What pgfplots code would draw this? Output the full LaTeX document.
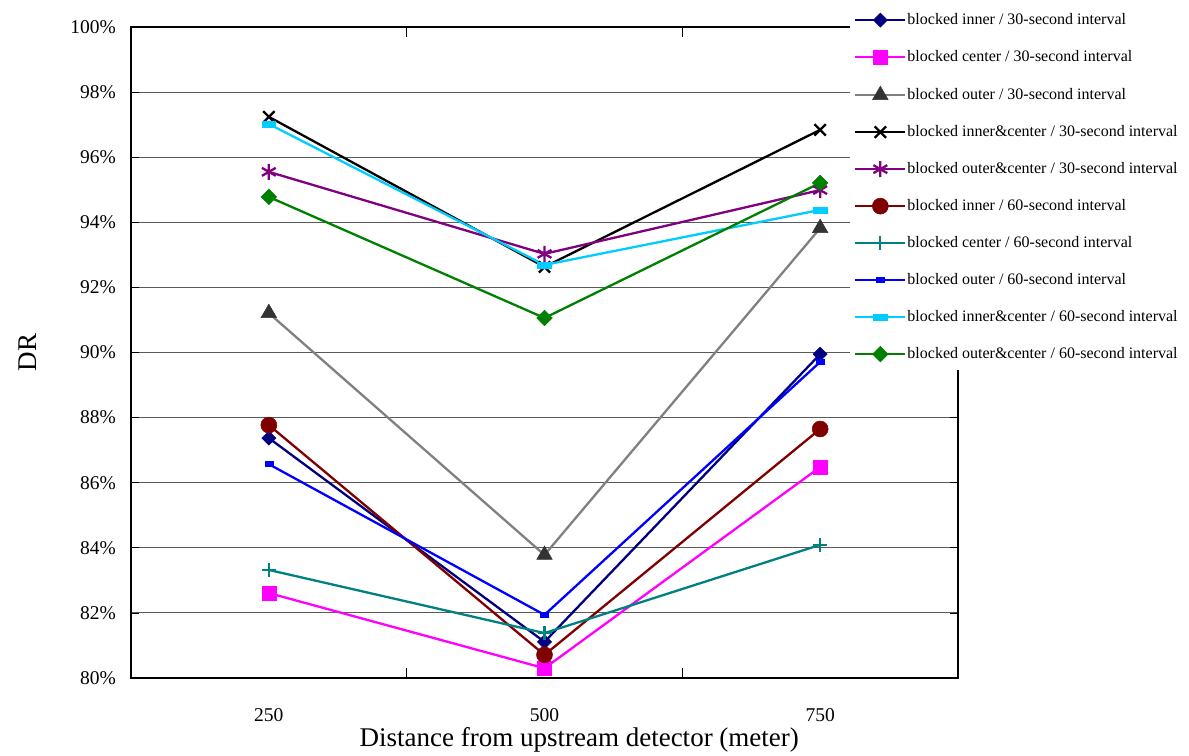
\documentclass[border=0pt]{standalone}
\usepackage{pgfplots}
\pgfplotsset{compat=1.18}
\usepackage{fontspec}
\setmainfont{Liberation Serif}
\definecolor{cnavy}{HTML}{000080}
\definecolor{cmag}{HTML}{FF00FF}
\definecolor{cgray}{HTML}{808080}
\definecolor{cdgray}{HTML}{333333}
\definecolor{cpurple}{HTML}{800080}
\definecolor{cdred}{HTML}{800000}
\definecolor{cteal}{HTML}{008080}
\definecolor{cblue}{HTML}{0000FF}
\definecolor{ccyan}{HTML}{00CCFF}
\definecolor{cgreen}{HTML}{008000}
\begin{document}
\begin{tikzpicture}
\begin{axis}[
  name=ax,
  scale only axis,
  width=827pt, height=651pt,
  xmin=-0.5, xmax=2.5,
  ymin=80, ymax=100,
  xtick={0,1,2},
  xticklabels={250,500,750},
  minor xtick={0.5,1.5},
  ytick={80,82,...,100},
  major x tick style={draw=none},
  minor tick length=10pt,
  major tick length=8pt,
  tick align=inside,
  x tick style={black, line width=0.8pt},
  y tick style={black, line width=0.8pt},
  ymajorgrids,
  grid style={black!65, line width=1pt},
  axis line style={black, line width=1.2pt},
  yticklabel={\pgfmathprintnumber[fixed,precision=0]{\tick}\%},
  /pgf/number format/assume math mode=true,
  ticklabel style={font=\fontsize{19.5}{22}\selectfont},
  xticklabel style={anchor=center, yshift=-37pt},
  yticklabel style={anchor=east, inner sep=0pt, xshift=-15pt},
  xlabel={Distance from upstream detector (meter)},
  ylabel={DR},
  label style={font=\fontsize{27}{30}\selectfont},
  xlabel style={at={(axis description cs:0.542,-0.095)}, anchor=center},
  ylabel style={at={(axis description cs:-0.125,0.5)}, anchor=center},
  legend cell align=left,
  legend image code/.code={\draw[mark repeat=2,mark phase=2] plot coordinates {(0pt,0pt) (25pt,0pt) (50pt,0pt)};},
  legend style={at={(axis description cs:0.8694,1.0354)}, anchor=north west,
    draw=none, fill=white, font=\fontsize{16}{18}\selectfont,
    row sep=21pt, inner xsep=4pt, inner ysep=8pt,
    nodes={inner sep=1pt, text height=11pt, text depth=3pt, anchor=west}},
  every axis plot/.append style={line width=2.3pt},
]
\addplot[cnavy, mark=square*, mark size=5pt, mark options={rotate=45, fill=cnavy, line width=0.5pt}] coordinates {(0,87.37) (1,81.11) (2,89.95)};
\addlegendentry{blocked inner / 30-second interval}
\addplot[cmag, mark=square*, mark size=7pt, mark options={fill=cmag, line width=0.5pt}] coordinates {(0,82.61) (1,80.30) (2,86.48)};
\addlegendentry{blocked center / 30-second interval}
\addplot[cgray, mark=triangle*, mark size=9pt, mark options={draw=cdgray, fill=cdgray, line width=0.5pt}] coordinates {(0,91.21) (1,83.78) (2,93.82)};
\addlegendentry{blocked outer / 30-second interval}
\addplot[black, mark=x, mark size=8pt, mark options={line width=2.3pt}] coordinates {(0,97.24) (1,92.63) (2,96.84)};
\addlegendentry{blocked inner\&center / 30-second interval}
\addplot[cpurple, mark=asterisk, mark size=8pt, mark options={line width=2.3pt}] coordinates {(0,95.55) (1,93.03) (2,94.99)};
\addlegendentry{blocked outer\&center / 30-second interval}
\addplot[cdred, mark=*, mark size=8pt, mark options={fill=cdred, line width=0.5pt}] coordinates {(0,87.77) (1,80.71) (2,87.65)};
\addlegendentry{blocked inner / 60-second interval}
\addplot[cteal, mark=+, mark size=7pt, mark options={line width=2.3pt}] coordinates {(0,83.32) (1,81.38) (2,84.09)};
\addlegendentry{blocked center / 60-second interval}
\addplot[cblue, mark=square*, mark size=2.5pt, mark options={fill=cblue, line width=0.5pt, xscale=1.6, yscale=1}] coordinates {(0,86.57) (1,81.94) (2,89.71)};
\addlegendentry{blocked outer / 60-second interval}
\addplot[ccyan, mark=square*, mark size=3pt, mark options={fill=ccyan, line width=0.5pt, xscale=2.3, yscale=1}] coordinates {(0,97.02) (1,92.69) (2,94.38)};
\addlegendentry{blocked inner\&center / 60-second interval}
\addplot[cgreen, mark=square*, mark size=5.5pt, mark options={rotate=45, fill=cgreen, line width=0.5pt}] coordinates {(0,94.78) (1,91.06) (2,95.21)};
\addlegendentry{blocked outer\&center / 60-second interval}
\end{axis}
\path (ax.south west) ++(-131pt,-77pt) rectangle ++(1189pt,755pt);
\end{tikzpicture}
\end{document}
